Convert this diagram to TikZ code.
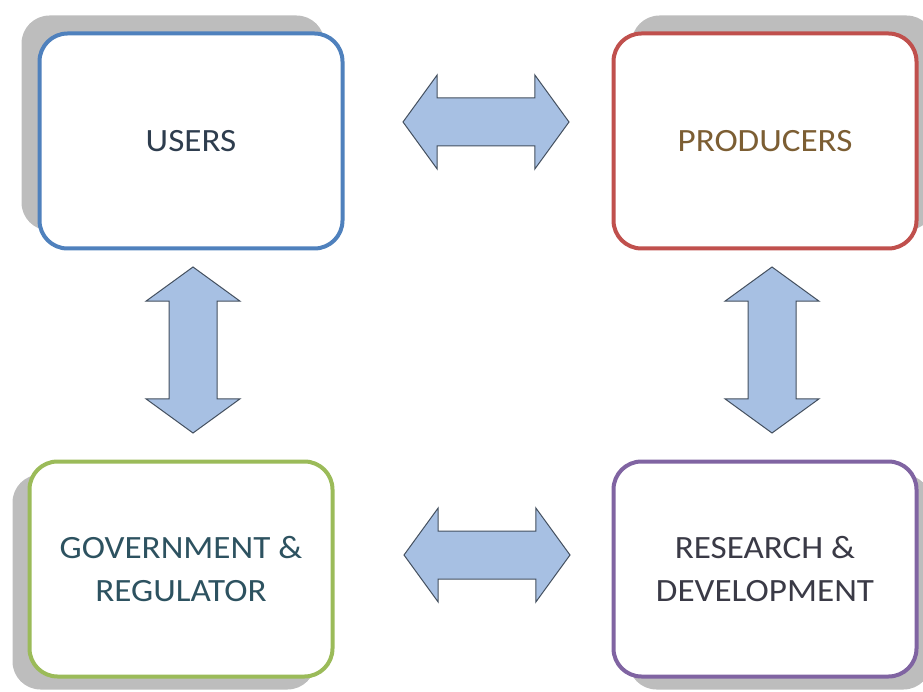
\documentclass[tikz,border=0pt]{standalone}
\usepackage{fontspec}
\setmainfont{Carlito}[FakeStretch=1.08]
\usetikzlibrary{shapes.arrows,shadows}
\definecolor{usersblue}{HTML}{4F81BD}
\definecolor{prodred}{HTML}{C0504D}
\definecolor{govgreen}{HTML}{9BBB59}
\definecolor{rdpurple}{HTML}{8064A2}
\definecolor{arrowfill}{HTML}{A7C0E3}
\definecolor{arrowline}{HTML}{44505F}
\definecolor{shadowgray}{HTML}{BDBDBD}
\definecolor{usersText}{HTML}{2E3D4E}
\definecolor{prodText}{HTML}{7C5E33}
\definecolor{govText}{HTML}{2D5260}
\definecolor{rdText}{HTML}{3A3A46}
\tikzset{%
  % Specifications for style of nodes:
        base/.style = {rectangle, rounded corners=28pt, line width=4pt,
                       minimum width=303pt, minimum height=215pt, fill=white,
                       align=center, font=\fontsize{32.5}{43}\selectfont},
    userBox/.style = {base, draw=usersblue, text=usersText,
                      general shadow={fill=shadowgray, shadow xshift=-18pt,
                                      shadow yshift=18pt}},
    prodBox/.style = {base, draw=prodred, text=prodText,
                      general shadow={fill=shadowgray, shadow xshift=18pt,
                                      shadow yshift=18pt}},
     govBox/.style = {base, draw=govgreen, text=govText,
                      general shadow={fill=shadowgray, shadow xshift=-17pt,
                                      shadow yshift=-13pt}},
      rdBox/.style = {base, draw=rdpurple, text=rdText,
                      general shadow={fill=shadowgray, shadow xshift=15pt,
                                      shadow yshift=-13pt}},
    linkArrow/.style = {double arrow, draw=arrowline, fill=arrowfill,
                        line width=1pt, inner sep=0pt, inner ysep=23.5pt,
                        minimum height=166pt, minimum width=93pt,
                        double arrow head extend=23pt,
                        double arrow tip angle=108},
}
\begin{document}
\begin{tikzpicture}[x=1pt, y=-1pt]
  \useasboundingbox (0,0) rectangle (923,692);
  % Specification of nodes (position, etc.)
  \node (users)      [userBox] at (191,141) {USERS};
  \node (producers)  [prodBox] at (765,141) {PRODUCERS};
  \node (government) [govBox]  at (181,569) {GOVERNMENT \&\\REGULATOR};
  \node (research)   [rdBox]   at (765,569) {RESEARCH \&\\DEVELOPMENT};

  % block arrows between the boxes
  \node (usersProd) [linkArrow]            at (486,122) {};
  \node (usersGov)  [linkArrow, rotate=90] at (193,350) {};
  \node (prodRes)   [linkArrow, rotate=90] at (772,350) {};
  \node (govRes)    [linkArrow]            at (487,555) {};
\end{tikzpicture}
\end{document}
